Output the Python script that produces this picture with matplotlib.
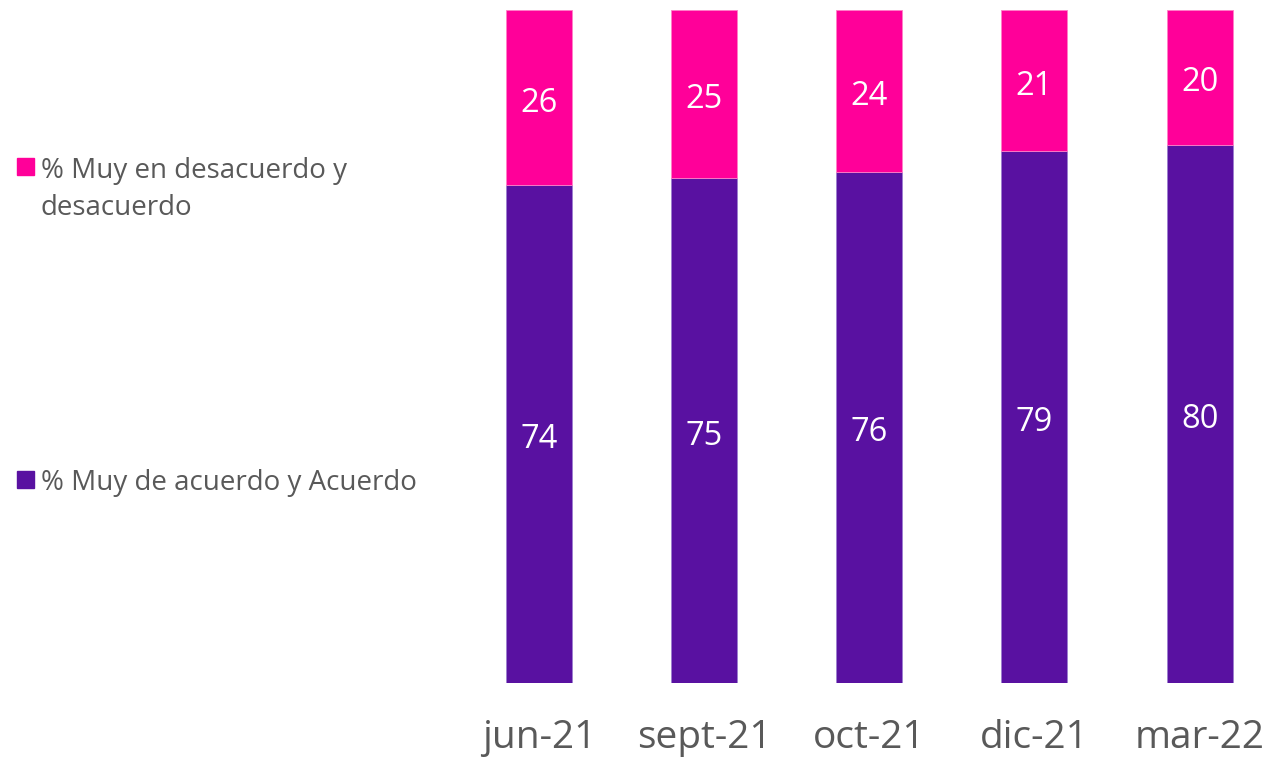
import matplotlib
matplotlib.use("Agg")
import matplotlib.pyplot as plt
from matplotlib.patches import Rectangle

categories = ["jun-21", "sept-21", "oct-21", "dic-21", "mar-22"]
acuerdo = [74, 75, 76, 79, 80]
desacuerdo = [26, 25, 24, 21, 20]
label_acuerdo = "% Muy de acuerdo y Acuerdo"
label_desacuerdo = "% Muy en desacuerdo y\ndesacuerdo"

PURPLE = "#5911A1"
PINK = "#FF0099"
GRAY = "#595959"
FONT = "Open Sans"

W, H = 1269, 759
fig = plt.figure(figsize=(W / 100, H / 100), dpi=100)
plt.rcParams['font.family'] = [FONT, 'DejaVu Sans']

def fx(px):
    return px / W

def fy(py):
    return 1 - py / H

ax = fig.add_axes([fx(458), fy(683), fx(1269) - fx(458), fy(10) - fy(683)])
x = list(range(len(categories)))
ax.bar(x, acuerdo, width=0.4, color=PURPLE, edgecolor="#9C7FD0", linewidth=0.6)
ax.bar(x, desacuerdo, width=0.4, bottom=acuerdo, color=PINK, edgecolor="#FF80C8", linewidth=0.6)
ax.set_xlim(-0.49, 4.42)
ax.set_ylim(0, 100)
for s in ax.spines.values():
    s.set_visible(False)
ax.set_yticks([])
ax.set_xticks(x)
ax.set_xticklabels(categories, fontsize=28, color=GRAY)
ax.tick_params(axis="x", length=0, pad=26)

for i in x:
    ax.annotate(str(acuerdo[i]), (i, acuerdo[i] / 2), xytext=(0, -4),
                textcoords="offset points", ha="center", va="center",
                color="white", fontsize=23.5)
    ax.annotate(str(desacuerdo[i]), (i, acuerdo[i] + desacuerdo[i] / 2),
                xytext=(0, -4), textcoords="offset points", ha="center",
                va="center", color="white", fontsize=23.5)

# legend
fig.patches.append(Rectangle((fx(17), fy(175)), fx(17), fx(17) * W / H,
                             transform=fig.transFigure, color=PINK))
line1, line2 = label_desacuerdo.split("\n")
fig.text(fx(41), fy(178), line1, fontsize=20, color=GRAY,
         va="baseline", ha="left")
fig.text(fx(41), fy(215), line2, fontsize=20, color=GRAY,
         va="baseline", ha="left")
fig.patches.append(Rectangle((fx(17), fy(488)), fx(17), fx(17) * W / H,
                             transform=fig.transFigure, color=PURPLE))
fig.text(fx(41), fy(490), label_acuerdo, fontsize=20, color=GRAY,
         va="baseline", ha="left")

fig.savefig("out.png", dpi=100)
